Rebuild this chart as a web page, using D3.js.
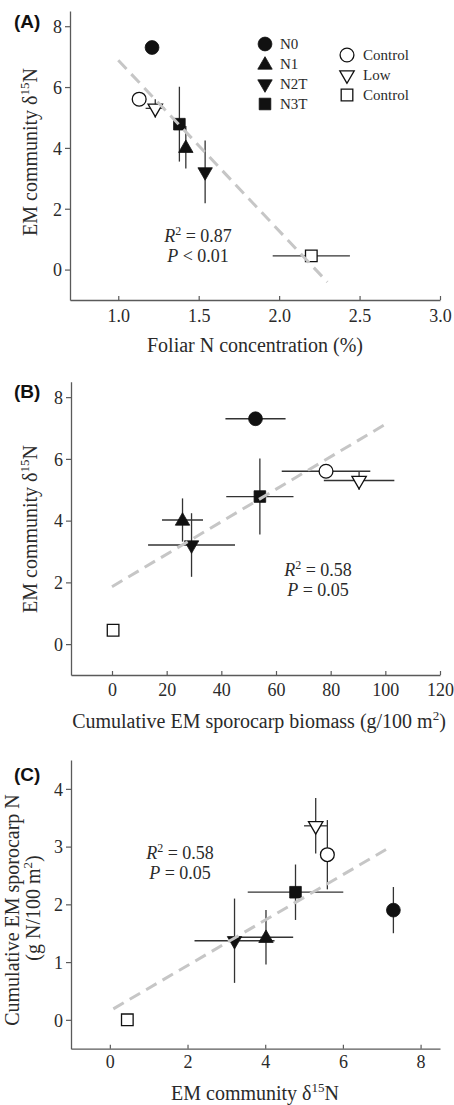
<!DOCTYPE html>
<html><head><meta charset="utf-8">
<script src="https://cdn.jsdelivr.net/npm/d3@7"></script>
<style>
html,body{margin:0;padding:0;background:#fff;}
svg{display:block;}
</style>
</head><body>
<svg id="chart" width="454" height="1105"></svg>
<script>
// ---- data ----
const treatments = ["N0", "N1", "N2T", "N3T", "Control", "Low", "Control"];
const shapes = ["circle", "triUp", "triDown", "square", "circle", "triDown", "square"];
const filled = [true, true, true, true, false, false, false];

const foliarN    = [1.21, 1.42, 1.54, 1.38, 1.13, 1.23, 2.20];
const foliarNErr = [0, 0, 0, 0, 0, 0.06, 0.24];
const d15N       = [7.30, 4.02, 3.21, 4.78, 5.60, 5.30, 0.45];
const d15NErr    = [0, 0.70, 1.03, 1.23, 0, 0.30, 0];
const biomass    = [52.5, 25.8, 29.1, 54.1, 78.3, 90.4, 0.4];
const biomassErr = [11.0, 7.5, 15.9, 12.3, 16.2, 12.9, 0];
const sporoN     = [1.90, 1.43, 1.37, 2.21, 2.86, 3.36, 0.0];
const sporoNErr  = [0.40, 0.47, 0.73, 0.48, 0.60, 0.48, 0];

const ticksA_x = [1.0, 1.5, 2.0, 2.5, 3.0];
const ticksA_y = [0, 2, 4, 6, 8];
const ticksB_x = [0, 20, 40, 60, 80, 100, 120];
const ticksB_y = [0, 2, 4, 6, 8];
const ticksC_x = [0, 2, 4, 6, 8];
const ticksC_y = [0, 1, 2, 3, 4];

const fitA_x = [1.0, 2.3],  fitA_y = [6.88, -0.41];
const fitB_x = [0, 100],    fitB_y = [1.86, 7.12];
const fitC_x = [0.09, 7.11], fitC_y = [0.19, 2.95];

// ---- drawing ----
const svg = d3.select("#chart");
const SERIF = "'Liberation Serif','Times New Roman',serif";
const AXC = "#5a5a5a";
const TXT = "#2a2a2a";

function symbolPath(shape) {
  if (shape === "circle") return d3.symbol(d3.symbolCircle, 150)();
  if (shape === "square") return d3.symbol(d3.symbolSquare, 135)();
  return d3.symbol(d3.symbolTriangle, 90)();
}

function marker(g, shape, fill, x, y) {
  g.append("path")
    .attr("d", symbolPath(shape))
    .attr("transform", `translate(${x},${y})` + (shape === "triDown" ? " rotate(180)" : (shape==="triUp"?" translate(0,1)":"")))
    .attr("fill", fill ? "#111" : "#fff")
    .attr("stroke", "#111")
    .attr("stroke-width", fill ? 0.8 : 1.3);
}

function panel(cfg) {
  const g = svg.append("g");
  const x = d3.scaleLinear().domain(cfg.xd).range(cfg.xr);
  const y = d3.scaleLinear().domain(cfg.yd).range(cfg.yr);

  const xa = g.append("g").attr("transform", `translate(0,${cfg.yr[0]})`)
    .call(d3.axisBottom(x).tickValues(cfg.xt).tickSizeInner(-4).tickSizeOuter(0).tickPadding(cfg.tp)
      .tickFormat(cfg.xf));
  const ya = g.append("g").attr("transform", `translate(${cfg.xr[0]},0)`)
    .call(d3.axisLeft(y).tickValues(cfg.yt).tickSizeInner(5).tickSizeOuter(0).tickPadding(3)
      .tickFormat(d3.format("d")));
  [xa, ya].forEach(a => {
    a.select(".domain").attr("stroke", AXC).attr("stroke-width", 1.3);
    a.selectAll(".tick line").attr("stroke", AXC).attr("stroke-width", 1.2);
    a.selectAll(".tick text").attr("fill", TXT).style("font-family", SERIF).style("font-size", "18px");
  });
  ya.selectAll(".tick text").attr("dy", "0.35em");

  // error bars
  const n = cfg.xv.length;
  for (let i = 0; i < n; i++) {
    const cx = x(cfg.xv[i]), cy = y(cfg.yv[i]);
    if (cfg.xe[i] > 0) g.append("line").attr("x1", x(cfg.xv[i] - cfg.xe[i])).attr("x2", x(cfg.xv[i] + cfg.xe[i]))
      .attr("y1", cy).attr("y2", cy).attr("stroke", "#333").attr("stroke-width", 1.3);
    if (cfg.ye[i] > 0) g.append("line").attr("y1", y(cfg.yv[i] - cfg.ye[i])).attr("y2", y(cfg.yv[i] + cfg.ye[i]))
      .attr("x1", cx).attr("x2", cx).attr("stroke", "#333").attr("stroke-width", 1.3);
  }
  for (let i = 0; i < n; i++) marker(g, shapes[i], filled[i], x(cfg.xv[i]), y(cfg.yv[i]));

  // regression line (drawn over markers)
  g.append("line")
    .attr("x1", x(cfg.fx[0])).attr("y1", y(cfg.fy[0]))
    .attr("x2", x(cfg.fx[1])).attr("y2", y(cfg.fy[1]))
    .attr("stroke", "#c6c6c6").attr("stroke-width", 3).attr("stroke-dasharray", "12,7");

  // stats text
  const st = g.append("text").attr("x", cfg.sx).attr("y", cfg.sy).attr("text-anchor", "middle")
    .style("font-family", SERIF).style("font-size", "18px").attr("fill", TXT);
  st.append("tspan").style("font-style", "italic").text("R");
  st.append("tspan").attr("dy", -7).style("font-size", "12px").text("2");
  st.append("tspan").attr("dy", 7).text(" = " + cfg.r2);
  g.append("text").attr("x", cfg.sx).attr("y", cfg.sy + 20).attr("text-anchor", "middle")
    .style("font-family", SERIF).style("font-size", "18px").attr("fill", TXT)
    .call(t => { t.append("tspan").style("font-style", "italic").text("P"); t.append("tspan").text(cfg.p); });

  g.append("text").attr("x", 14).attr("y", cfg.ly).text(cfg.letter)
    .style("font-family", "'Liberation Sans',Arial,sans-serif").style("font-weight", "bold").style("font-size", "19px").attr("fill", "#111");
  return g;
}

function d15Title(sel) {
  sel.append("tspan").text("EM community δ");
  sel.append("tspan").attr("dy", -8).style("font-size", "13px").text("15");
  sel.append("tspan").attr("dy", 8).text("N");
}

// Panel A
panel({xd:[0.7,3.0], xr:[70,440], yd:[-1,8.5], yr:[300,11], xt:ticksA_x, yt:ticksA_y, xf:d3.format(".1f"), tp:9,
  xv:foliarN, xe:foliarNErr, yv:d15N, ye:d15NErr, fx:fitA_x, fy:fitA_y,
  sx:198, sy:242, r2:"0.87", p:" < 0.01", letter:"(A)", ly:28});
svg.append("text").attr("x", 255).attr("y", 352).attr("text-anchor", "middle")
  .style("font-family", SERIF).style("font-size", "20px").attr("fill", TXT).text("Foliar N concentration (%)");
svg.append("text").attr("transform", "translate(37,152) rotate(-90)").attr("text-anchor", "middle")
  .style("font-family", SERIF).style("font-size", "20px").attr("fill", TXT).call(d15Title);

// Legend
const leg = svg.append("g");
[0,1,2,3].forEach((i, k) => {
  marker(leg, shapes[i], filled[i], 265, 44 + k * 20);
  leg.append("text").attr("x", 280).attr("y", 44 + k * 20).attr("dy", "0.35em").text(treatments[i])
    .style("font-family", SERIF).style("font-size", "15px").attr("fill", TXT);
});
[4,5,6].forEach((i, k) => {
  marker(leg, shapes[i], filled[i], 347, 55 + k * 20);
  leg.append("text").attr("x", 363).attr("y", 55 + k * 20).attr("dy", "0.35em").text(treatments[i])
    .style("font-family", SERIF).style("font-size", "15px").attr("fill", TXT);
});

// Panel B
panel({xd:[-15,120], xr:[71,440], yd:[-1,8.5], yr:[675,381.7], xt:ticksB_x, yt:ticksB_y, xf:d3.format("d"), tp:8,
  xv:biomass, xe:biomassErr, yv:d15N, ye:d15NErr, fx:fitB_x, fy:fitB_y,
  sx:318, sy:576, r2:"0.58", p:" = 0.05", letter:"(B)", ly:398});
svg.append("text").attr("x", 259).attr("y", 728).attr("text-anchor", "middle")
  .style("font-family", SERIF).style("font-size", "20px").attr("fill", TXT)
  .call(t => {
    t.append("tspan").text("Cumulative EM sporocarp biomass (g/100 m");
    t.append("tspan").attr("dy", -8).style("font-size", "13px").text("2");
    t.append("tspan").attr("dy", 8).text(")");
  });
svg.append("text").attr("transform", "translate(37,529) rotate(-90)").attr("text-anchor", "middle")
  .style("font-family", SERIF).style("font-size", "20px").attr("fill", TXT).call(d15Title);

// Panel C
panel({xd:[-1,8.5], xr:[71,440], yd:[-0.5,4.5], yr:[1048.7,760], xt:ticksC_x, yt:ticksC_y, xf:d3.format("d"), tp:7,
  xv:d15N, xe:d15NErr, yv:sporoN, ye:sporoNErr, fx:fitC_x, fy:fitC_y,
  sx:180, sy:859, r2:"0.58", p:" = 0.05", letter:"(C)", ly:781});
svg.append("text").attr("x", 255).attr("y", 1100).attr("text-anchor", "middle")
  .style("font-family", SERIF).style("font-size", "20px").attr("fill", TXT).call(d15Title);
svg.append("text").attr("transform", "translate(19,910) rotate(-90)").attr("text-anchor", "middle")
  .style("font-family", SERIF).style("font-size", "20px").attr("fill", TXT).text("Cumulative EM sporocarp N");
svg.append("text").attr("transform", "translate(40,908) rotate(-90)").attr("text-anchor", "middle")
  .style("font-family", SERIF).style("font-size", "20px").attr("fill", TXT)
  .call(t => {
    t.append("tspan").text("(g N/100 m");
    t.append("tspan").attr("dy", -8).style("font-size", "13px").text("2");
    t.append("tspan").attr("dy", 8).text(")");
  });
</script>
</body></html>
